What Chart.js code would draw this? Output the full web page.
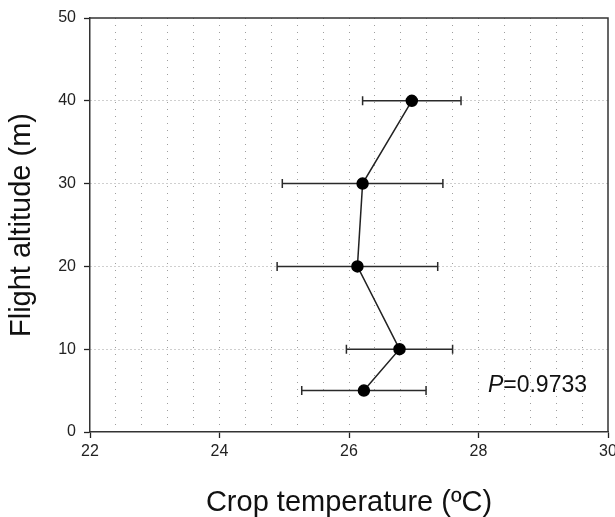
<!DOCTYPE html>
<html><head><meta charset="utf-8">
<script src="https://cdn.jsdelivr.net/npm/chart.js@4/dist/chart.umd.min.js"></script>
<style>html,body{margin:0;padding:0;background:#fff}#wrap{width:615px;height:517px;position:relative}</style>
</head><body><div id="wrap"><canvas id="c" width="615" height="517"></canvas></div>
<script>
// ---- data ----
const altitudes = [40, 30, 20, 10, 5];
const meanTemps = [26.97, 26.21, 26.13, 26.78, 26.23];
const sdTemps = [0.76, 1.24, 1.24, 0.82, 0.96];
const xTickLabels = [22, 24, 26, 28, 30];
const yTickLabels = [0, 10, 20, 30, 40, 50];
const xTitle = 'Crop temperature (ºC)';
const yTitle = 'Flight altitude (m)';
const pLabel = 'P';
const pValue = '=0.9733';

const FONT = "'Liberation Sans', Arial, sans-serif";
const points = altitudes.map((a, i) => ({ x: meanTemps[i], y: a }));

const errorBars = {
  id: 'errorBars',
  beforeDatasetsDraw(chart) {
    const { ctx, scales: { x, y } } = chart;
    ctx.save();
    ctx.strokeStyle = '#2a2a2a';
    ctx.lineWidth = 1.5;
    meanTemps.forEach((m, i) => {
      const py = y.getPixelForValue(altitudes[i]);
      const x1 = x.getPixelForValue(m - sdTemps[i]);
      const x2 = x.getPixelForValue(m + sdTemps[i]);
      ctx.beginPath();
      ctx.moveTo(x1, py); ctx.lineTo(x2, py);
      ctx.moveTo(x1, py - 4.5); ctx.lineTo(x1, py + 4.5);
      ctx.moveTo(x2, py - 4.5); ctx.lineTo(x2, py + 4.5);
      ctx.stroke();
    });
    ctx.restore();
  }
};

const frameAndText = {
  id: 'frameAndText',
  afterDraw(chart) {
    const { ctx, chartArea: a } = chart;
    ctx.save();
    ctx.strokeStyle = '#333';
    ctx.lineWidth = 1.5;
    ctx.beginPath();
    ctx.moveTo(a.left, a.top); ctx.lineTo(a.right, a.top); ctx.lineTo(a.right, a.bottom);
    ctx.stroke();
    // P annotation
    ctx.fillStyle = '#111';
    ctx.textBaseline = 'alphabetic';
    ctx.font = 'italic 23px ' + FONT;
    const wP = ctx.measureText(pLabel).width;
    ctx.font = '23px ' + FONT;
    const wV = ctx.measureText(pValue).width;
    const xr = a.right - 21;
    const yb = a.bottom - 40;
    ctx.font = 'italic 23px ' + FONT;
    ctx.fillText(pLabel, xr - wV - wP, yb);
    ctx.font = '23px ' + FONT;
    ctx.fillText(pValue, xr - wV, yb);
    ctx.restore();
  }
};

const isMajorX = v => xTickLabels.includes(Math.round(v * 10) / 10);

new Chart(document.getElementById('c'), {
  type: 'scatter',
  data: {
    datasets: [{
      data: points,
      showLine: true,
      borderColor: '#222',
      borderWidth: 1.5,
      backgroundColor: '#000',
      pointBackgroundColor: '#000',
      pointBorderColor: '#000',
      pointRadius: 5.5,
      pointHoverRadius: 5.5,
      tension: 0
    }]
  },
  options: {
    responsive: false,
    animation: false,
    devicePixelRatio: 1,
    layout: { padding: { top: 18, right: 7, bottom: 0, left: 0 } },
    plugins: { legend: { display: false }, tooltip: { enabled: false } },
    scales: {
      x: {
        type: 'linear',
        min: 22, max: 30,
        afterFit(s) { s.height = 85; s.paddingLeft = 0; s.paddingRight = 0; },
        ticks: {
          stepSize: 0.4,
          autoSkip: false,
          maxRotation: 0,
          padding: 4,
          color: '#222',
          font: { family: FONT, size: 16 },
          callback: v => isMajorX(v) ? String(Math.round(v)) : ''
        },
        grid: {
          color: c => (c.tick && (Math.abs(c.tick.value - 22) < 1e-6 || Math.abs(c.tick.value - 30) < 1e-6)) ? 'transparent' : 'rgba(0,0,0,0.38)',
          lineWidth: 1,
          tickLength: 6,
          tickWidth: 1.3,
          tickColor: c => (c.tick && isMajorX(c.tick.value)) ? '#222' : 'transparent'
        },
        border: { color: '#333', width: 1.5, dash: [1, 6] },
        title: {
          display: true, text: xTitle, color: '#111',
          font: { family: FONT, size: 29, lineHeight: 1 },
          padding: { top: 0, bottom: 0 }
        }
      },
      y: {
        type: 'linear',
        min: 0, max: 50,
        afterFit(s) { s.width = 90; s.paddingTop = 0; s.paddingBottom = 0; },
        ticks: {
          stepSize: 10,
          padding: 8,
          color: '#222',
          font: { family: FONT, size: 16 },
          callback: v => yTickLabels.includes(v) ? String(v) : ''
        },
        grid: {
          color: c => (c.tick && (c.tick.value === 0 || c.tick.value === 50)) ? 'transparent' : 'rgba(0,0,0,0.38)',
          lineWidth: 1,
          tickLength: 6,
          tickWidth: 1.3,
          tickColor: '#222'
        },
        border: { color: '#333', width: 1.5, dash: [1, 3] },
        title: {
          display: true, text: yTitle, color: '#111',
          font: { family: FONT, size: 29, lineHeight: 1 },
          padding: { top: 7, bottom: 0 }
        }
      }
    }
  },
  plugins: [errorBars, frameAndText]
});
</script></body></html>
